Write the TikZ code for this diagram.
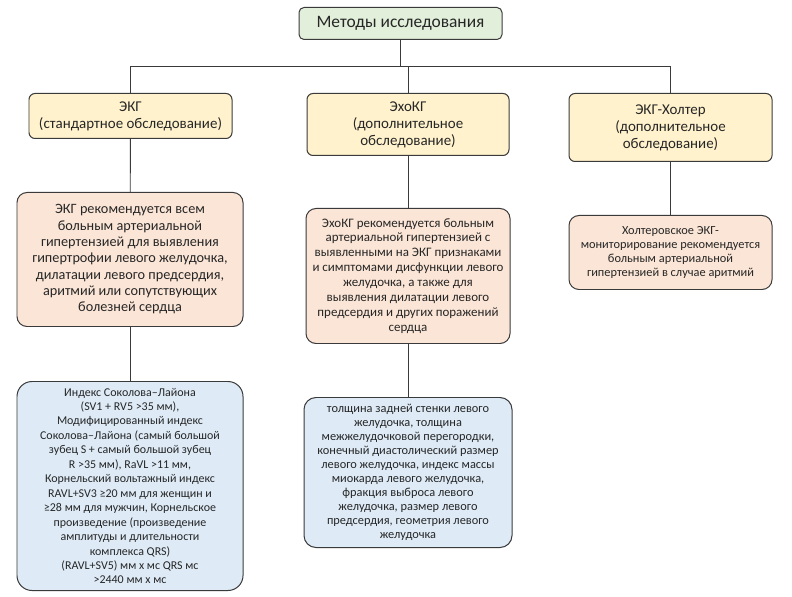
\documentclass[tikz,border=0pt]{standalone}
\usepackage{fontspec}
\setmainfont{Carlito}
\usetikzlibrary{calc}

\definecolor{boxline}{HTML}{3A3A3A}
\definecolor{textgray}{HTML}{262626}
\definecolor{topgreen}{HTML}{E2EFDA}
\definecolor{headyellow}{HTML}{FFF2CC}
\definecolor{recpeach}{HTML}{FBE5D6}
\definecolor{idxblue}{HTML}{DEEBF7}

\begin{document}
\begin{tikzpicture}[
  x=1bp, y=-1bp,
  box/.style={draw=boxline, line width=1pt, align=center, anchor=north, inner sep=2pt, text=textgray},
  topbox/.style={box, fill=topgreen, rounded corners=5bp, minimum width=203bp, minimum height=32bp, font=\fontsize{17.5}{20}\selectfont},
  head/.style={box, fill=headyellow, rounded corners=6bp, minimum width=203bp, font=\fontsize{15}{17}\selectfont},
  rec/.style={box, fill=recpeach, rounded corners=10bp},
  idx/.style={box, fill=idxblue, rounded corners=15bp},
  link/.style={draw=boxline, line width=0.9pt}
]
\useasboundingbox (0,0) rectangle (792,597);

% top
\node[topbox] (methods) at (400.5,7) {Методы исследования};
\coordinate (bus) at (0,66);

% second row
\node[head, minimum height=45bp] (ekg) at (130.5,93) {ЭКГ\\(стандартное обследование)};
\node[head, minimum width=202bp, minimum height=62bp] (echo) at (408,93) {ЭхоКГ\\(дополнительное\\обследование)};
\node[head, minimum height=68bp] (holter) at (670.5,93) {ЭКГ-Холтер\\(дополнительное\\обследование)};

% recommendations
\node[rec, minimum width=226bp, minimum height=134bp, font=\fontsize{14.3}{16.4}\selectfont] (ekgrec) at (130,192)
  {ЭКГ рекомендуется всем\\больным артериальной\\гипертензией для выявления\\гипертрофии левого желудочка,\\дилатации левого предсердия,\\аритмий или сопутствующих\\болезней сердца};
\node[rec, minimum width=204bp, minimum height=135bp, font=\fontsize{13}{15}\selectfont] (echorec) at (408,208)
  {ЭхоКГ рекомендуется больным\\артериальной гипертензией с\\выявленными на ЭКГ признаками\\и симптомами дисфункции левого\\желудочка, а также для\\выявления дилатации левого\\предсердия и других поражений\\сердца};
\node[rec, minimum width=203bp, minimum height=74bp, font=\fontsize{12.4}{14}\selectfont] (holtrec) at (670.5,215)
  {Холтеровское ЭКГ-\\мониторирование рекомендуется\\больным артериальной\\гипертензией в случае аритмий};

% criteria
\node[idx, minimum width=226bp, minimum height=209bp, font=\fontsize{12}{14.5}\selectfont] (ekgidx) at (130,381)
  {Индекс Соколова–Лайона\\(SV1 + RV5 >35 мм),\\Модифицированный индекс\\Соколова–Лайона (самый большой\\зубец S + самый большой зубец\\R >35 мм), RaVL >11 мм,\\Корнельский вольтажный индекс\\RAVL+SV3 ≥20 мм для женщин и\\≥28 мм для мужчин, Корнельское\\произведение (произведение\\амплитуды и длительности\\комплекса QRS)\\(RAVL+SV5) мм х мс QRS мс\\>2440 мм х мс};
\node[idx, minimum width=208bp, minimum height=150bp, font=\fontsize{12.4}{14}\selectfont, rounded corners=12bp] (echoidx) at (408,397)
  {толщина задней стенки левого\\желудочка, толщина\\межжелудочковой перегородки,\\конечный диастолический размер\\левого желудочка, индекс массы\\миокарда левого желудочка,\\фракция выброса левого\\желудочка, размер левого\\предсердия, геометрия левого\\желудочка};

% connectors
\draw[link] (methods.south) -- (methods.south |- bus);
\draw[link] (ekg.north) -- (ekg.north |- bus) -| (holter.north);
\draw[link] (echo.north) -- (echo.north |- bus);
\draw[link] (ekg) -- (ekgrec);
\draw[link] (echo) -- (echorec);
\draw[link] (holter) -- (holtrec);
\draw[link] (ekgrec) -- (ekgidx);
\draw[link] (echorec) -- (echoidx);
\end{tikzpicture}
\end{document}
